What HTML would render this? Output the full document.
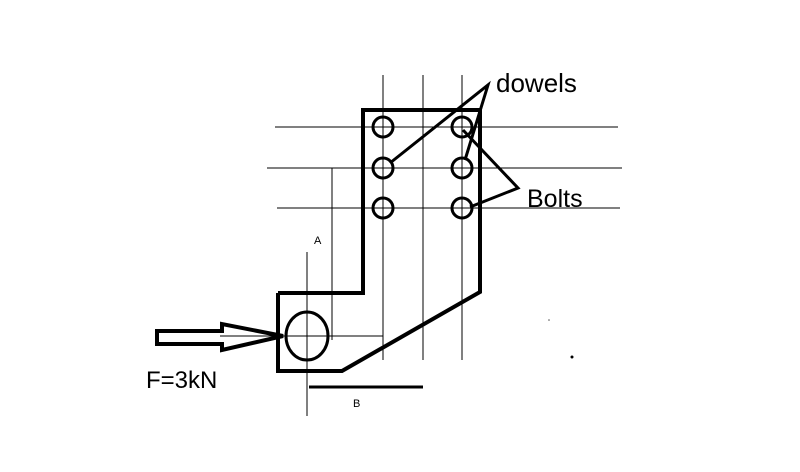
<!DOCTYPE html>
<html><head><style>body{margin:0;background:#fff}svg{display:block}</style></head><body>
<svg width="800" height="472" viewBox="0 0 800 472" xmlns="http://www.w3.org/2000/svg">
<rect width="800" height="472" fill="#fff"/>
<g stroke="#000" stroke-width="1" fill="none">
<line x1="383" y1="75" x2="383" y2="360"/>
<line x1="423" y1="75" x2="423" y2="360"/>
<line x1="462" y1="75" x2="462" y2="360"/>
<line x1="275" y1="127" x2="618" y2="127"/>
<line x1="267" y1="168" x2="622" y2="168"/>
<line x1="277" y1="208" x2="620" y2="208"/>
<line x1="332" y1="168" x2="332" y2="340"/>
<line x1="307" y1="252" x2="307" y2="416"/>
<line x1="220" y1="336" x2="383" y2="336"/>
</g>
<g stroke="#000" stroke-width="4" fill="none" stroke-linejoin="miter">
<polyline points="278,293 363,293 363,110 480,110 480,292 342,371 278,371 278,293"/>
</g>
<g stroke="#000" stroke-width="3" fill="none">
<circle cx="383" cy="127" r="10"/><circle cx="462" cy="127" r="10"/>
<circle cx="383" cy="168" r="10"/><circle cx="462" cy="168" r="10"/>
<circle cx="383" cy="208" r="10"/><circle cx="462" cy="208" r="10"/>
<ellipse cx="307" cy="336" rx="21" ry="24"/>
<polyline points="390,163 488,85 465,160"/>
<polyline points="463,130 518,188 470,207"/>
<line x1="309" y1="387" x2="423" y2="387"/>
<polygon points="157,331 222,331 222,324 283,336 222,350 222,344 157,344" stroke-width="4"/>
</g>
<circle cx="572" cy="357" r="1.5" fill="#000"/>
<circle cx="549" cy="320" r="0.8" fill="#555"/>
<g font-family="Liberation Sans, sans-serif" fill="#000">
<text x="496" y="92" font-size="26">dowels</text>
<text x="527" y="207" font-size="25">Bolts</text>
<text x="146" y="388" font-size="24">F=3kN</text>
<text x="314" y="244" font-size="11">A</text>
<text x="353" y="407" font-size="11">B</text>
</g>
</svg>
</body></html>
